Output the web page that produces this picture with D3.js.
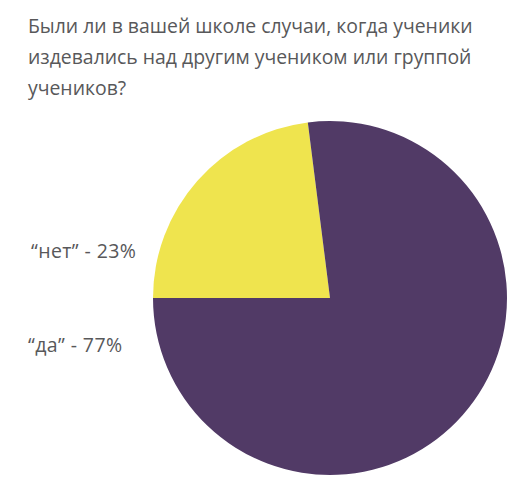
<!DOCTYPE html>
<html>
<head>
<meta charset="utf-8">
<script src="https://cdn.jsdelivr.net/npm/d3@7"></script>
<style>
  body { margin: 0; background: #fff; }
  text { font-family: "Open Sans", sans-serif; fill: #58585a; }
</style>
</head>
<body>
<div id="pie"></div>
<script>
// question title, one entry per line
var titleLines = [
    "Были ли в вашей школе случаи, когда ученики",
    "издевались над другим учеником или группой",
    "учеников?"
];

// answers
var answers = ["нет", "да"];
var percents = [23, 77];
var colors = ["#efe44e", "#513a66"];

var width = 532,
    height = 503,
    radius = 177,
    cx = 330,
    cy = 298;

var svg = d3.select("#pie")
    .append("svg")
    .attr("width", width)
    .attr("height", height);

svg.append("g")
    .selectAll("text")
    .data(titleLines)
    .enter().append("text")
    .attr("x", 28)
    .attr("y", function (d, i) { return 33 + i * 31; })
    .style("font-size", "19.4px")
    .text(function (d) { return d; });

var color = d3.scaleOrdinal(answers, colors);

var pie = d3.pie()
    .sort(null)
    .startAngle(-Math.PI / 2)
    .endAngle(Math.PI * 1.5)
    .value(function (d, i) { return percents[i]; })(answers);

var arc = d3.arc()
    .outerRadius(radius)
    .innerRadius(0);

var g = svg.append("g")
    .attr("transform", "translate(" + cx + "," + cy + ")");

g.selectAll("path")
    .data(pie)
    .enter().append("path")
    .attr("d", arc)
    .style("fill", function (d) { return color(d.data); });

// labels on the left
var labelY = { "нет": 258, "да": 352 };
svg.append("g")
    .selectAll("text")
    .data(pie)
    .enter().append("text")
    .attr("x", function (d) { return d.data === "нет" ? 31 : 28; })
    .attr("y", function (d) { return labelY[d.data]; })
    .style("font-size", "19.5px")
    .style("letter-spacing", "0.4px")
    .text(function (d, i) { return "\u201c" + d.data + "\u201d - " + percents[i] + "%"; });
</script>
</body>
</html>
